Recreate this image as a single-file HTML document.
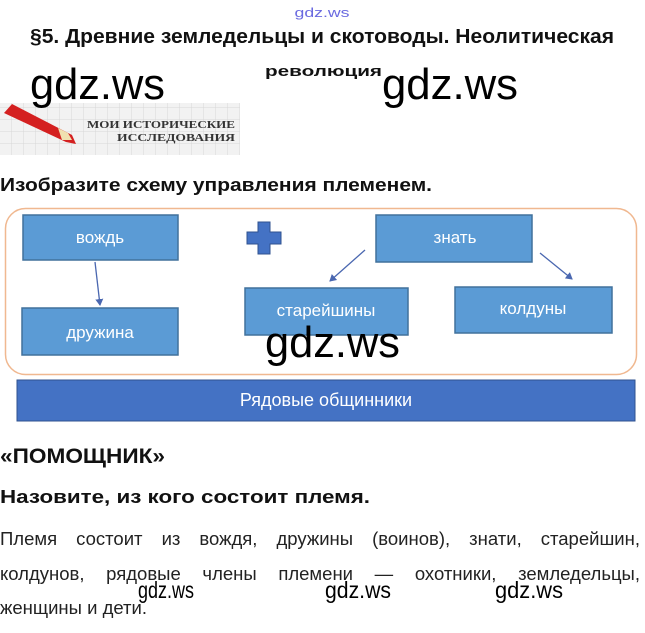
<!DOCTYPE html>
<html><head><meta charset="utf-8"><style>
html,body{margin:0;padding:0;background:#fff;}
svg{display:block;}
text{font-family:"Liberation Sans","DejaVu Sans",sans-serif;}
.p{position:absolute;left:0;width:640px;font-family:"Liberation Sans",sans-serif;font-size:18.5px;color:#222;text-align:justify;text-align-last:justify;white-space:nowrap;}
.p span{display:inline-block;}
</style></head><body>
<div style="position:relative;width:645px;height:633px;overflow:hidden">
<svg width="645" height="633" viewBox="0 0 645 633" xmlns="http://www.w3.org/2000/svg" style="position:absolute;left:0;top:0">
<defs>
<pattern id="grid" width="12" height="12" patternUnits="userSpaceOnUse">
<path d="M12 0V12M0 12H12" stroke="#d8d8d8" stroke-width="1" fill="none"/>
</pattern>
<marker id="ah" markerWidth="8" markerHeight="8" refX="6" refY="4" orient="auto" markerUnits="userSpaceOnUse">
<path d="M0,0 L7,4 L0,8 Z" fill="#4a67b0"/>
</marker>
</defs>
<text x="322" y="17" font-size="13" fill="#6a6ae0" text-anchor="middle" textLength="55" lengthAdjust="spacingAndGlyphs">gdz.ws</text>
<text x="30" y="43" font-size="20" font-weight="bold" fill="#111" textLength="584" lengthAdjust="spacingAndGlyphs">§5. Древние земледельцы и скотоводы. Неолитическая</text>
<text x="265" y="76" font-size="15" font-weight="bold" fill="#111" textLength="117" lengthAdjust="spacingAndGlyphs">революция</text>
<rect x="0" y="103" width="240" height="52" fill="#f2f2f2"/>
<rect x="0" y="103" width="240" height="52" fill="url(#grid)"/>
<polygon points="4,113 12,104 72,135 76,144 66,142" fill="#d42020"/>
<polygon points="58,128 68,133 72,140 62,140" fill="#f0e0b0"/>
<text x="235" y="128" font-size="11" font-weight="bold" fill="#333" text-anchor="end" textLength="148" lengthAdjust="spacingAndGlyphs" style="font-family:'Liberation Serif',serif">МОИ ИСТОРИЧЕСКИЕ</text>
<text x="235" y="141" font-size="11" font-weight="bold" fill="#333" text-anchor="end" textLength="118" lengthAdjust="spacingAndGlyphs" style="font-family:'Liberation Serif',serif">ИССЛЕДОВАНИЯ</text>
<text x="30" y="99" font-size="44" fill="#000" textLength="135" lengthAdjust="spacingAndGlyphs">gdz.ws</text>
<text x="382" y="99" font-size="44" fill="#000" textLength="136" lengthAdjust="spacingAndGlyphs">gdz.ws</text>
<text x="0" y="191" font-size="18" font-weight="bold" fill="#111" textLength="432" lengthAdjust="spacingAndGlyphs">Изобразите схему управления племенем.</text>
<rect x="5.5" y="208.5" width="631" height="166" rx="20" fill="#fff" stroke="#f0b890" stroke-width="1.5"/>
<g fill="#5b9bd5" stroke="#41719c" stroke-width="1.5">
<rect x="23" y="215" width="155" height="45"/>
<rect x="22" y="308" width="156" height="47"/>
<rect x="245" y="288" width="163" height="47"/>
<rect x="376" y="215" width="156" height="47"/>
<rect x="455" y="287" width="157" height="46"/>
</g>
<path d="M258,222h12v10h11v12h-11v10h-12v-10h-11v-12h11z" fill="#4472c4" stroke="#2f528f" stroke-width="1"/>
<g fill="#fff" font-size="17" text-anchor="middle">
<text x="100" y="243">вождь</text>
<text x="100" y="338">дружина</text>
<text x="326" y="316">старейшины</text>
<text x="455" y="243">знать</text>
<text x="533" y="314">колдуны</text>
</g>
<g stroke="#4a67b0" stroke-width="1.3" marker-end="url(#ah)">
<line x1="95" y1="262" x2="100" y2="305"/>
<line x1="365" y1="250" x2="330" y2="281"/>
<line x1="540" y1="253" x2="572" y2="279"/>
</g>
<rect x="17" y="380" width="618" height="41" fill="#4472c4" stroke="#2f528f" stroke-width="1"/>
<text x="326" y="406" font-size="18" fill="#fff" text-anchor="middle">Рядовые общинники</text>
<text x="265" y="357" font-size="44" fill="#000" textLength="135" lengthAdjust="spacingAndGlyphs">gdz.ws</text>
<text x="0" y="463" font-size="21" font-weight="bold" fill="#111" textLength="165" lengthAdjust="spacingAndGlyphs">«ПОМОЩНИК»</text>
<text x="0" y="503" font-size="18" font-weight="bold" fill="#111" textLength="370" lengthAdjust="spacingAndGlyphs">Назовите, из кого состоит племя.</text>
</svg>
<div class="p" style="top:528px">Племя состоит из вождя, дружины (воинов), знати, старейшин,</div>
<div class="p" style="top:563px">колдунов, рядовые члены племени — охотники, земледельцы,</div>
<div class="p" style="top:597px;text-align-last:left">женщины и дети.</div>
<svg width="645" height="633" style="position:absolute;left:0;top:0">
<g font-size="23" fill="#000">
<text x="138" y="598" textLength="56" lengthAdjust="spacingAndGlyphs">gdz.ws</text>
<text x="325" y="598" textLength="66" lengthAdjust="spacingAndGlyphs">gdz.ws</text>
<text x="495" y="598" textLength="68" lengthAdjust="spacingAndGlyphs">gdz.ws</text>
</g>
</svg>
</div>
</body></html>
